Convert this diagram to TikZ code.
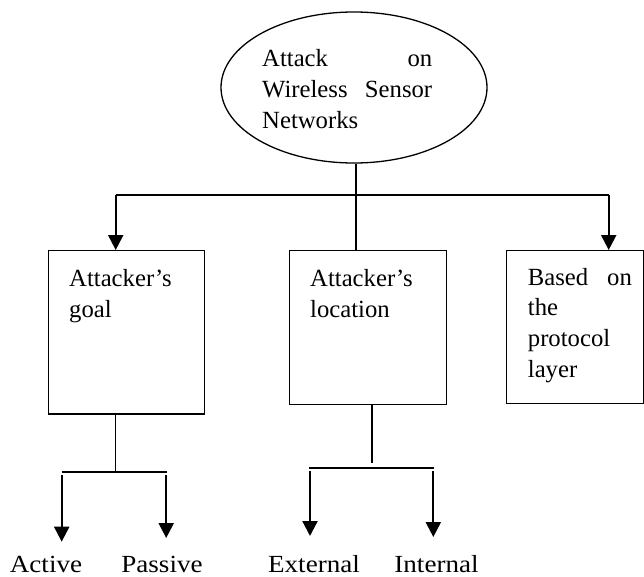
\documentclass[tikz,border=0pt]{standalone}
\usepackage{fontspec}
\setmainfont{Liberation Serif}
\newfontfamily\widefont[FakeStretch=1.1]{Liberation Serif}
\usetikzlibrary{arrows.meta,shapes.geometric}
\begin{document}
\begin{tikzpicture}[x=1pt,y=-1pt,
  line/.style={line width=1.3pt},
  arr/.style={line width=2.2pt,-{Triangle[width=15pt,length=15pt]}},
  box/.style={draw,line width=1.3pt,anchor=north west,inner sep=0pt},
  txt/.style={anchor=north west,inner sep=0pt,align=left,font=\fontsize{24.7}{30.7}\selectfont},
  lbl/.style={anchor=base,inner sep=0pt,text depth=0pt,font=\widefont\fontsize{24.6}{30}\selectfont}]
\useasboundingbox (0,0) rectangle (644,577);
% top ellipse
\node[ellipse,draw,line width=1.3pt,minimum width=266pt,minimum height=151pt,inner sep=0pt] (ell) at (354,87.5) {};
\node[txt,text width=170pt,font=\fontsize{24.7}{31}\selectfont] (elltxt) at (262,44.3)
  {\strut Attack\hfill on\\Wireless\hfill Sensor\\Networks};
% boxes
\node[box,minimum width=156.3pt,minimum height=163.3pt] (goal) at (47.7,250) {};
\node[box,minimum width=157.5pt,minimum height=154pt] (loc) at (288.5,250) {};
\node[box,minimum width=137pt,minimum height=153pt] (proto) at (505.7,250) {};
\node[txt,text width=125pt] (goaltxt) at (69,265.2) {\strut Attacker’s\\goal};
\node[txt,text width=125pt] (loctxt) at (310,265.2) {\strut Attacker’s\\location};
\node[txt,text width=104pt] (prototxt) at (527.7,263.5) {\strut Based\hfill on\\the\\protocol\\layer};
% top connectors
\coordinate (jt) at (356,195);
\coordinate (jl) at (115.7,195);
\coordinate (jr) at (608.7,195);
\draw[line] (ell.south -| jt) -- (jt |- loc.north);
\draw[line] (jl) -- (jr);
\draw[arr] (jl) -- (jl |- goal.north);
\draw[arr] (jr) -- (jr |- proto.north);
% bottom labels
\node[lbl] (active) at (46,572.3) {Active};
\node[lbl] (passive) at (162,572.3) {Passive};
\node[lbl] (external) at (314,572.3) {External};
\node[lbl] (internal) at (436.5,572.3) {Internal};
% left fork
\coordinate (gv) at (115.7,472);
\coordinate (gl) at (61.7,472);
\coordinate (gr) at (166.7,472);
\draw[line] (gv |- goal.south) -- (gv);
\draw[line] (gl) -- (gr);
\draw[arr] (61.7,475) -- (61.7,541.7);
\draw[arr] (166.2,475) -- (166.2,538);
% middle fork
\coordinate (lv) at (372,468);
\coordinate (ll) at (309.3,468);
\coordinate (lr) at (434,468);
\draw[line] (lv |- loc.south) -- (372,462.7);
\draw[line] (ll) -- (lr);
\draw[arr] (310,471) -- (310,536);
\draw[arr] (433.3,471) -- (433.3,537);
\end{tikzpicture}
\end{document}
